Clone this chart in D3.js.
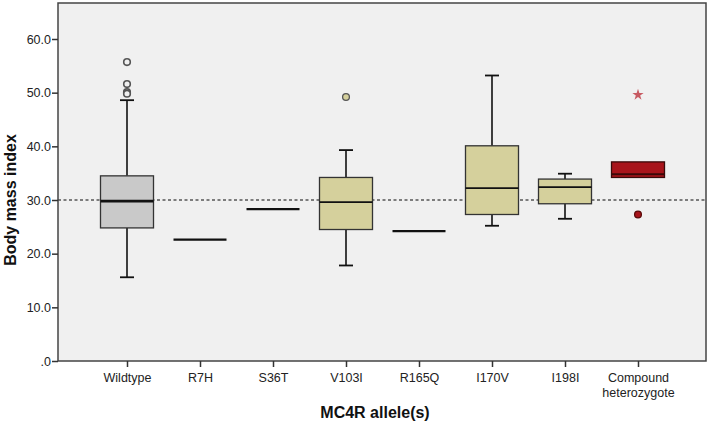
<!DOCTYPE html>
<html>
<head>
<meta charset="utf-8">
<script src="https://cdn.jsdelivr.net/npm/d3@7"></script>
<style>
  html, body { margin: 0; padding: 0; background: #ffffff; }
  svg { display: block; font-family: "Liberation Sans", Arial, sans-serif; }
</style>
</head>
<body>
<svg id="chart" width="709" height="423"></svg>
<script>
// ---- data ----
const categories = ["Wildtype", "R7H", "S36T", "V103I", "R165Q", "I170V", "I198I", "Compound heterozygote"];
const whiskerLow  = [15.6, 22.6, 28.3, 17.8, 24.2, 25.2, 26.5, 34.2];
const q1          = [24.8, 22.6, 28.3, 24.5, 24.2, 27.3, 29.3, 34.2];
const medians     = [29.8, 22.6, 28.3, 29.6, 24.2, 32.2, 32.4, 34.8];
const q3          = [34.5, 22.6, 28.3, 34.2, 24.2, 40.1, 33.9, 37.1];
const whiskerHigh = [48.6, 22.6, 28.3, 39.3, 24.2, 53.2, 34.9, 37.1];
const outlierCat  = ["Wildtype", "Wildtype", "Wildtype", "Wildtype", "V103I", "Compound heterozygote"];
const outlierVal  = [55.7, 51.6, 50.1, 49.8, 49.2, 27.3];
const extremeCat  = ["Compound heterozygote"];
const extremeVal  = [49.6];
const yTicks      = [0, 10, 20, 30, 40, 50, 60];
const refValue    = 30;
const groupFill   = ["#c9c9c9", null, null, "#d5d09c", null, "#d5d09c", "#d5d09c", "#a8141b"];

// ---- layout ----
const svg = d3.select("#chart");
const pLeft = 58, pRight = 706, pTop = 3, pBottom = 361;

const y = d3.scaleLinear().domain([0, 60]).range([pBottom, 39]);
const x = d3.scalePoint().domain(categories).range([127, 638]);
const boxW = 53;

// plot background
svg.append("rect")
  .attr("x", pLeft).attr("y", pTop)
  .attr("width", pRight - pLeft).attr("height", pBottom - pTop)
  .attr("fill", "#f0f0f0");

// reference line
svg.append("line")
  .attr("x1", pLeft).attr("x2", pRight)
  .attr("y1", y(refValue)).attr("y2", y(refValue))
  .attr("stroke", "#555").attr("stroke-width", 1.3)
  .attr("stroke-dasharray", "3,2.5");

// boxes
const stats = categories.map((c, i) => ({
  c, lo: whiskerLow[i], q1: q1[i], med: medians[i], q3: q3[i], hi: whiskerHigh[i], fill: groupFill[i]
}));

const g = svg.append("g");
stats.forEach((s) => {
  const cx = x(s.c);
  const isLine = s.q1 === s.q3;
  if (isLine) {
    g.append("line")
      .attr("x1", cx - boxW / 2).attr("x2", cx + boxW / 2)
      .attr("y1", y(s.med)).attr("y2", y(s.med))
      .attr("stroke", "#111").attr("stroke-width", 2.2);
    return;
  }
  const stroke = s.c === "Compound heterozygote" ? "#3a0a0a" : "#333";
  if (s.hi > s.q3) {
    g.append("line").attr("x1", cx).attr("x2", cx).attr("y1", y(s.q3)).attr("y2", y(s.hi))
      .attr("stroke", "#111").attr("stroke-width", 1.6);
    g.append("line").attr("x1", cx - 7).attr("x2", cx + 7).attr("y1", y(s.hi)).attr("y2", y(s.hi))
      .attr("stroke", "#111").attr("stroke-width", 1.8);
  }
  if (s.lo < s.q1) {
    g.append("line").attr("x1", cx).attr("x2", cx).attr("y1", y(s.q1)).attr("y2", y(s.lo))
      .attr("stroke", "#111").attr("stroke-width", 1.6);
    g.append("line").attr("x1", cx - 7).attr("x2", cx + 7).attr("y1", y(s.lo)).attr("y2", y(s.lo))
      .attr("stroke", "#111").attr("stroke-width", 1.8);
  }
  g.append("rect")
    .attr("x", cx - boxW / 2).attr("width", boxW)
    .attr("y", y(s.q3)).attr("height", y(s.q1) - y(s.q3))
    .attr("fill", s.fill).attr("stroke", stroke).attr("stroke-width", 1.3);
  g.append("line")
    .attr("x1", cx - boxW / 2).attr("x2", cx + boxW / 2)
    .attr("y1", y(s.med)).attr("y2", y(s.med))
    .attr("stroke", s.c === "Compound heterozygote" ? "#3a0808" : "#111")
    .attr("stroke-width", s.c === "Wildtype" ? 2.8 : 1.8);
});

// outliers
outlierCat.forEach((c, i) => {
  const idx = categories.indexOf(c);
  const isWT = c === "Wildtype";
  svg.append("circle")
    .attr("cx", x(c)).attr("cy", y(outlierVal[i])).attr("r", isWT ? 3.3 : 3.4)
    .attr("fill", isWT ? "#f0f0f0" : groupFill[idx])
    .attr("stroke", isWT ? "#555" : (c === "Compound heterozygote" ? "#5a0a0a" : "#555"))
    .attr("stroke-width", isWT ? 1.6 : 1.3);
});
extremeCat.forEach((c, i) => {
  svg.append("path")
    .attr("d", d3.symbol(d3.symbolStar, 40)())
    .attr("transform", `translate(${x(c)},${y(extremeVal[i])})`)
    .attr("fill", "#c75a62").attr("stroke", "none");
});

// frame
svg.append("rect")
  .attr("x", pLeft).attr("y", pTop)
  .attr("width", pRight - pLeft).attr("height", pBottom - pTop)
  .attr("fill", "none").attr("stroke", "#444").attr("stroke-width", 1.5);

// y axis
const yAxis = d3.axisLeft(y).tickValues(yTicks).tickSize(6)
  .tickFormat(d => d === 0 ? ".0" : d3.format(".1f")(d));
const ya = svg.append("g").attr("transform", `translate(${pLeft},0)`).call(yAxis);
ya.select(".domain").remove();
ya.selectAll(".tick line").attr("stroke", "#333").attr("stroke-width", 1.5);
ya.selectAll(".tick text").attr("fill", "#222").attr("font-size", 12.5)
  .attr("font-family", "Liberation Sans, Arial, sans-serif").attr("x", -7);

// x axis
const xAxis = d3.axisBottom(x).tickSize(6).tickFormat("");
const xa = svg.append("g").attr("transform", `translate(0,${pBottom})`).call(xAxis);
xa.select(".domain").remove();
xa.selectAll(".tick line").attr("stroke", "#333").attr("stroke-width", 1.5);
xa.selectAll(".tick").each(function(d) {
  const t = d3.select(this).append("text")
    .attr("fill", "#222").attr("font-size", 12.5).attr("text-anchor", "middle")
    .attr("font-family", "Liberation Sans, Arial, sans-serif");
  if (d === "Compound heterozygote") {
    t.append("tspan").attr("x", 0).attr("y", 21).text("Compound");
    t.append("tspan").attr("x", 0).attr("y", 36).text("heterozygote");
  } else {
    t.attr("y", 21).text(d);
  }
});

// axis titles
svg.append("text")
  .attr("x", 375).attr("y", 418)
  .attr("text-anchor", "middle").attr("font-weight", "bold").attr("font-size", 16)
  .attr("fill", "#111").text("MC4R allele(s)");
svg.append("text")
  .attr("transform", `translate(16,200) rotate(-90)`)
  .attr("text-anchor", "middle").attr("font-weight", "bold").attr("font-size", 16)
  .attr("fill", "#111").text("Body mass index");
</script>
</body>
</html>
